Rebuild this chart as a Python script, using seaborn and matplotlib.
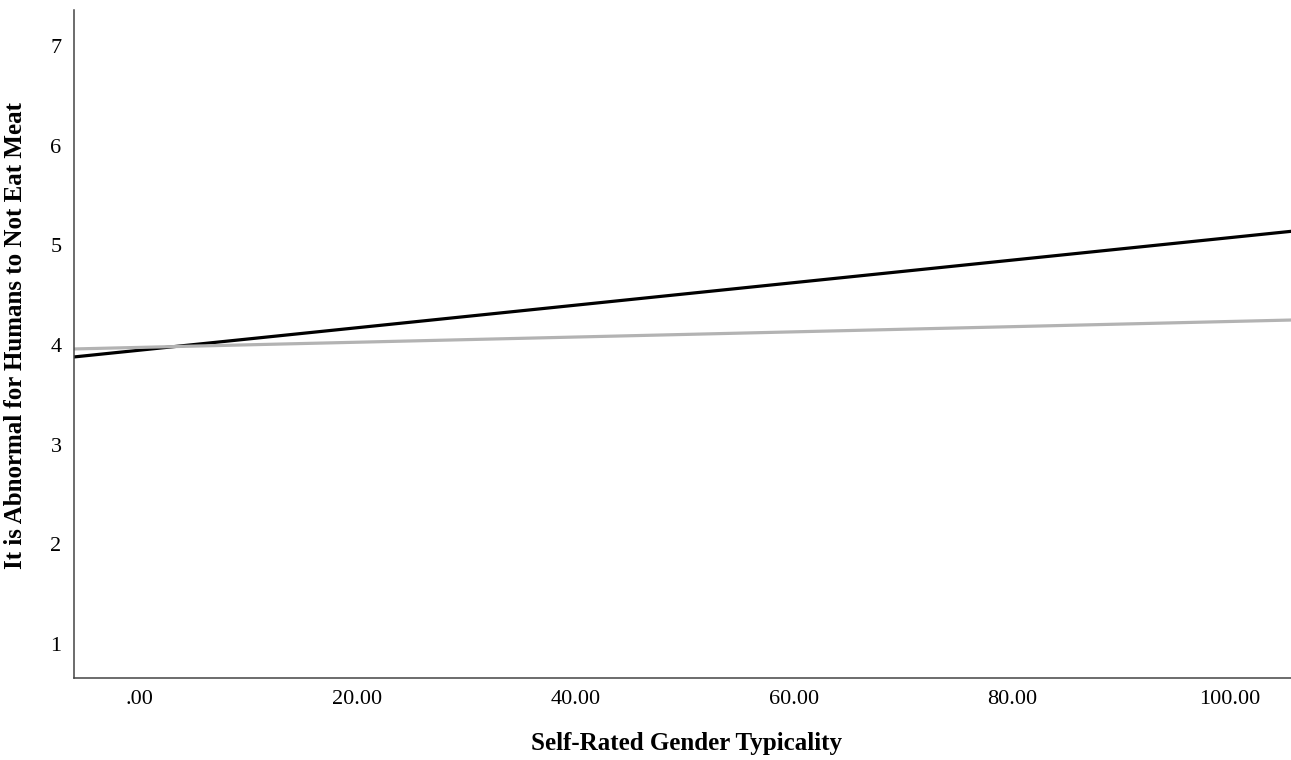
import numpy as np
import pandas as pd
import matplotlib
matplotlib.use("Agg")
import matplotlib.pyplot as plt
import seaborn as sns

# Fitted regression lines: intercept at x = 0 and slope per unit of x
groups = ["Group A", "Group B"]
intercepts = [3.948, 3.976]
slopes = [0.01129, 0.0026]
line_colors = ["#000000", "#b3b3b3"]

x_limits = [-6.0, 105.6]
y_limits = [0.66, 7.36]
x_ticks = [0, 20, 40, 60, 80, 100]
x_tick_labels = [".00", "20.00", "40.00", "60.00", "80.00", "100.00"]
y_ticks = [1, 2, 3, 4, 5, 6, 7]

sns.set_theme(style="white")
plt.rcParams["font.family"] = ["Liberation Serif", "DejaVu Serif"]

rows = []
for g, b0, b1 in zip(groups, intercepts, slopes):
    for x in x_limits:
        rows.append({"group": g, "x": x, "y": b0 + b1 * x})
df = pd.DataFrame(rows)

fig = plt.figure(figsize=(12.91, 7.60), dpi=100)
ax = fig.add_axes([0.0573, 0.1079, 0.9427, 0.8789])

sns.lineplot(data=df, x="x", y="y", hue="group", palette=line_colors,
             hue_order=groups, linewidth=2.3, legend=False, ax=ax)

ax.set_xlim(x_limits)
ax.set_ylim(y_limits)
ax.set_xticks(x_ticks)
ax.set_xticklabels(x_tick_labels)
ax.set_yticks(y_ticks)
ax.tick_params(axis="both", length=0, labelsize=16, colors="#000000")
ax.tick_params(axis="x", pad=9)
ax.tick_params(axis="y", pad=9)

for side in ["top", "right"]:
    ax.spines[side].set_visible(False)
for side in ["left", "bottom"]:
    ax.spines[side].set_color("#444444")
    ax.spines[side].set_linewidth(1.1)

ax.set_xlabel("Self-Rated Gender Typicality", fontsize=18, fontweight="bold",
              color="#000000", va="center")
ax.xaxis.set_label_coords(0.5035, -0.098)
ax.set_ylabel("It is Abnormal for Humans to Not Eat Meat", fontsize=18, fontweight="bold",
              color="#000000", va="center")
ax.yaxis.set_label_coords(-0.0477, 0.512)

fig.savefig("out.png", dpi=100)
